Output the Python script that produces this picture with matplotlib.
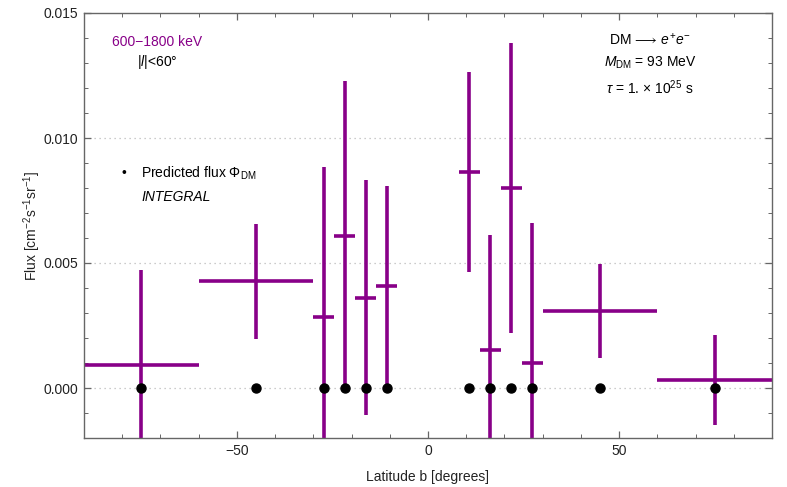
import matplotlib
matplotlib.use("Agg")
import matplotlib.pyplot as plt
from matplotlib.ticker import MultipleLocator
import numpy as np

plt.rcParams["font.family"] = ["Liberation Sans", "DejaVu Sans"]
plt.rcParams["mathtext.fontset"] = "custom"
plt.rcParams["mathtext.rm"] = "Liberation Sans"
plt.rcParams["mathtext.it"] = "Liberation Sans:italic"
plt.rcParams["mathtext.bf"] = "Liberation Sans:bold"

# Latitude bins (degrees): centre and half width
lat_center = [-75, -45, -27.25, -21.75, -16.25, -10.75,
              10.75, 16.25, 21.75, 27.25, 45, 75]
lat_halfwidth = [15, 15, 2.75, 2.75, 2.75, 2.75,
                 2.75, 2.75, 2.75, 2.75, 15, 15]

# INTEGRAL measured flux and 1-sigma errors
integral_flux = [0.00092, 0.00428, 0.00284, 0.0061, 0.00361, 0.0041,
                 0.00864, 0.00152, 0.0080, 0.00101, 0.00308, 0.00033]
integral_err = [0.0038, 0.0023, 0.0060, 0.0062, 0.0047, 0.0040,
                0.0040, 0.0046, 0.0058, 0.0056, 0.00187, 0.0018]

# Predicted decaying dark matter flux
predicted_flux = [0.0, 0.0, 0.0, 0.0, 0.0, 0.0,
                  0.0, 0.0, 0.0, 0.0, 0.0, 0.0]

purple = "#880088"
frame = "#666666"

fig = plt.figure(figsize=(7.87, 4.87), dpi=100)
ax = fig.add_axes([84 / 787, 49 / 487, 688 / 787, 425 / 487])

ax.errorbar(lat_center, integral_flux, xerr=lat_halfwidth, yerr=integral_err,
            fmt="none", ecolor=purple, elinewidth=2.6, capsize=0, zorder=2)
ax.plot(lat_center, predicted_flux, "o", color="black", ms=6.5, zorder=3)

ax.set_xlim(-90, 90)
ax.set_ylim(-0.002, 0.015)

ax.xaxis.set_major_locator(MultipleLocator(50))
ax.xaxis.set_minor_locator(MultipleLocator(10))
ax.yaxis.set_major_locator(MultipleLocator(0.005))
ax.yaxis.set_minor_locator(MultipleLocator(0.001))
ax.yaxis.set_major_formatter(matplotlib.ticker.FormatStrFormatter("%.3f"))
ax.xaxis.set_major_formatter(
    matplotlib.ticker.FuncFormatter(lambda v, p: f"{int(v)}".replace("-", "\u2212")))

for sp in ax.spines.values():
    sp.set_color(frame)
    sp.set_linewidth(1.0)
ax.tick_params(which="both", direction="in", top=True, right=True,
               color=frame, labelsize=10, labelcolor="#222222")
ax.tick_params(which="major", length=5, width=0.9, pad=4)
ax.tick_params(which="minor", length=3, width=0.7)

for yv in [0.0, 0.005, 0.010]:
    ax.axhline(yv, color="#bbbbbb", lw=0.9, ls=(0, (1, 3)), zorder=1)

ax.set_xlabel("Latitude b [degrees]", fontsize=10, color="#222222")
ax.set_ylabel(r"Flux [cm$^{-2}$s$^{-1}$sr$^{-1}$]", fontsize=10, color="#222222")
ax.xaxis.set_label_coords(0.5, -0.075)
ax.yaxis.set_label_coords(-0.059, 0.5)

# Energy band and longitude cut
fig.text(112 / 787, 1 - 42 / 487, "600\u22121800 keV", color=purple,
         fontsize=10, va="center", ha="left")
fig.text(137 / 787, 1 - 62 / 487, r"|$l$|<60°", color="black",
         fontsize=10, va="center", ha="left")

# Model parameters
cx = 650 / 787
fig.text(cx, 1 - 40 / 487, r"DM$\,\longrightarrow\,e^{+}e^{-}$", fontsize=10,
         ha="center", va="center")
fig.text(cx, 1 - 63 / 487, r"$M_{\mathrm{DM}}$ = 93 MeV", fontsize=10,
         ha="center", va="center")
fig.text(cx, 1 - 88 / 487, r"$\tau$ = 1. $\times$ 10$^{25}$ s", fontsize=10,
         ha="center", va="center")

# Legend
fig.text(124 / 787, 1 - 173 / 487, "\u2022", fontsize=10, ha="center", va="center")
fig.text(141 / 787, 1 - 173 / 487, r"Predicted flux $\Phi_{\mathrm{DM}}$",
         fontsize=10, ha="left", va="center")
fig.text(141 / 787, 1 - 197 / 487, "INTEGRAL", fontsize=10, style="italic",
         ha="left", va="center")

fig.savefig("out.png", dpi=100)
